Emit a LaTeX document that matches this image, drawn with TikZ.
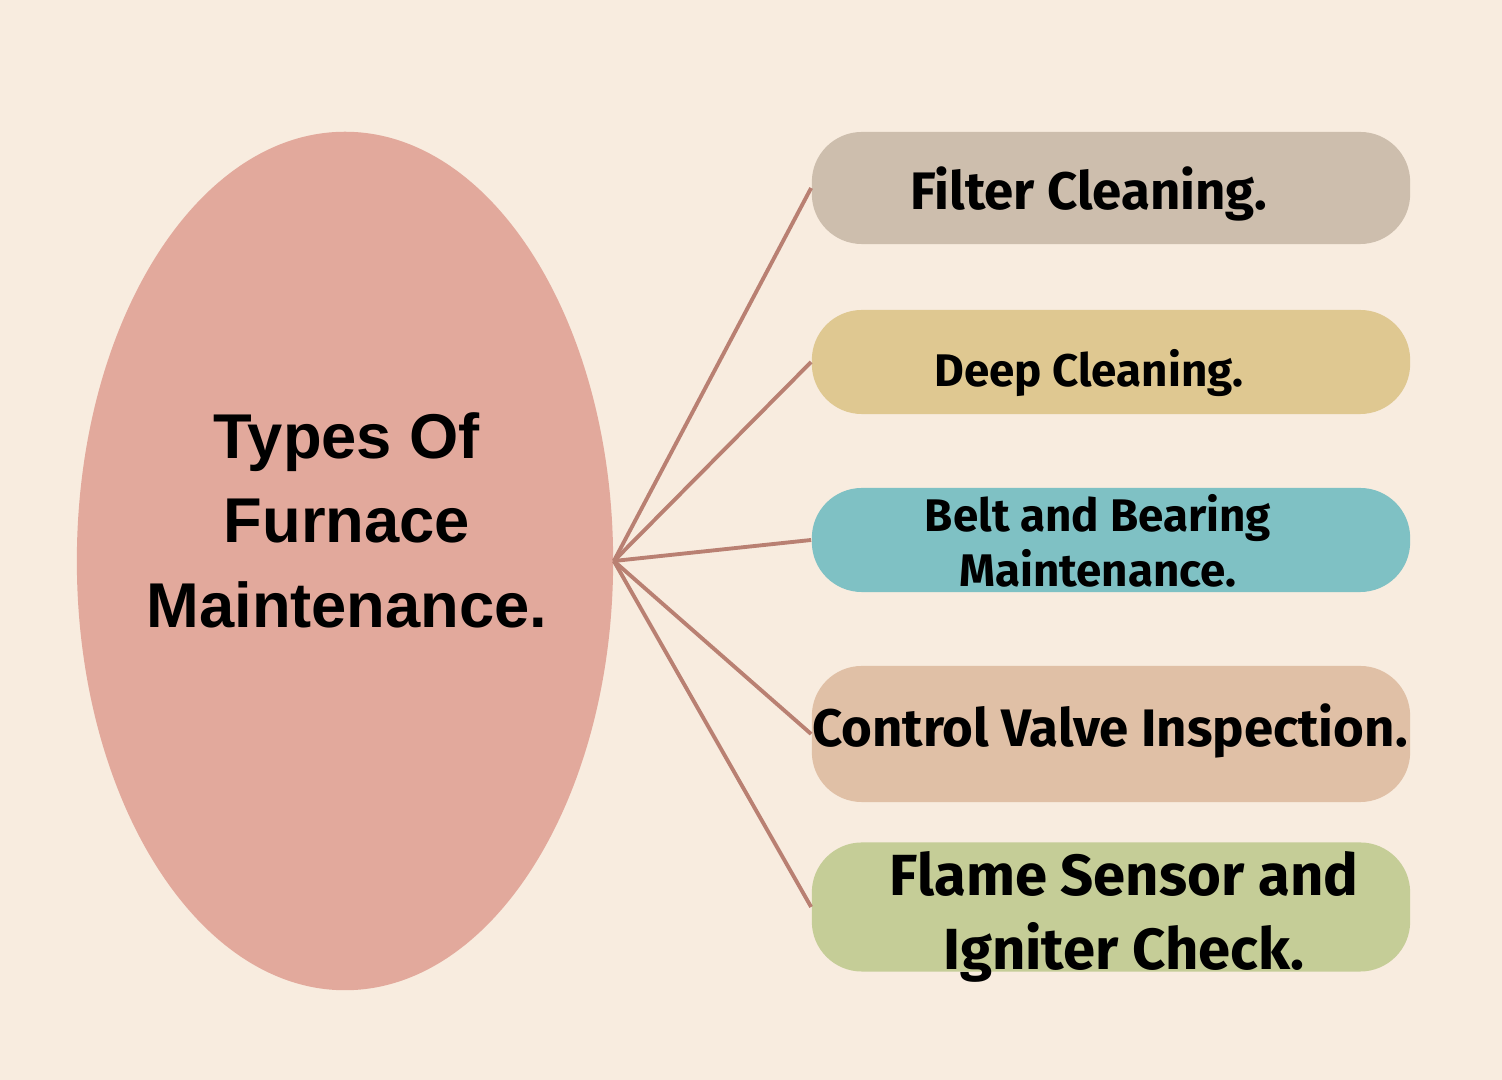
\documentclass[tikz,border=0pt]{standalone}
\usepackage{fontspec}
\setmainfont{Fira Sans}
\newfontfamily\titlefont{Liberation Sans}
\usetikzlibrary{shapes.geometric}
\definecolor{bgcream}{HTML}{F8ECDF}
\definecolor{ovalpink}{HTML}{E2A99C}
\definecolor{spokecol}{HTML}{B98072}
\definecolor{filtercol}{HTML}{CDBEAD}
\definecolor{deepcol}{HTML}{DFC891}
\definecolor{beltcol}{HTML}{7FC1C4}
\definecolor{valvecol}{HTML}{E0C0A6}
\definecolor{flamecol}{HTML}{C5CD97}

\begin{document}
\begin{tikzpicture}[x=0.01cm, y=-0.01cm,
  item/.style={rounded corners=0.5cm, minimum width=5.98cm, inner sep=0pt},
  itemtext/.style={align=center, inner sep=0pt},
  spoke/.style={draw=spokecol, line width=1.1pt}]
  % background
  \fill[bgcream] (0,0) rectangle (1502,1080);
  % central oval
  \node[ellipse, fill=ovalpink, minimum width=5.36cm, minimum height=8.58cm, inner sep=0pt] (hub) at (345,561) {};
  \node[font=\titlefont\bfseries\fontsize{18}{24}\selectfont, align=center] (title) at (347,520) {Types Of\\Furnace\\Maintenance.};
  % maintenance boxes
  \node[item, fill=filtercol, minimum height=1.12cm] (filter) at (1111,188) {};
  \node[item, fill=deepcol, minimum height=1.04cm] (deep) at (1111,362) {};
  \node[item, fill=beltcol, minimum height=1.04cm] (belt) at (1111,540) {};
  \node[item, fill=valvecol, minimum height=1.36cm] (valve) at (1111,734) {};
  \node[item, fill=flamecol, minimum height=1.29cm] (flame) at (1111,907) {};
  % box labels
  \node[itemtext, font=\bfseries\fontsize{15}{18}\selectfont] (filtertxt) at (1089,194) {Filter Cleaning.};
  \node[itemtext, font=\bfseries\fontsize{13}{16}\selectfont] (deeptxt) at (1089,373) {Deep Cleaning.};
  \node[itemtext, font=\bfseries\fontsize{13}{15.6}\selectfont] (belttxt) at (1098,541) {Belt and Bearing\\Maintenance.};
  \node[itemtext, font=\bfseries\fontsize{15}{18}\selectfont] (valvetxt) at (1110,731) {Control Valve Inspection.};
  \node[itemtext, font=\bfseries\fontsize{16.5}{21}\selectfont] (flametxt) at (1124,917) {Flame Sensor and\\Igniter Check.};
  % spokes
  \foreach \b in {filter, deep, belt, valve, flame}
    \draw[spoke] (hub.east) -- (\b.west);
\end{tikzpicture}
\end{document}
